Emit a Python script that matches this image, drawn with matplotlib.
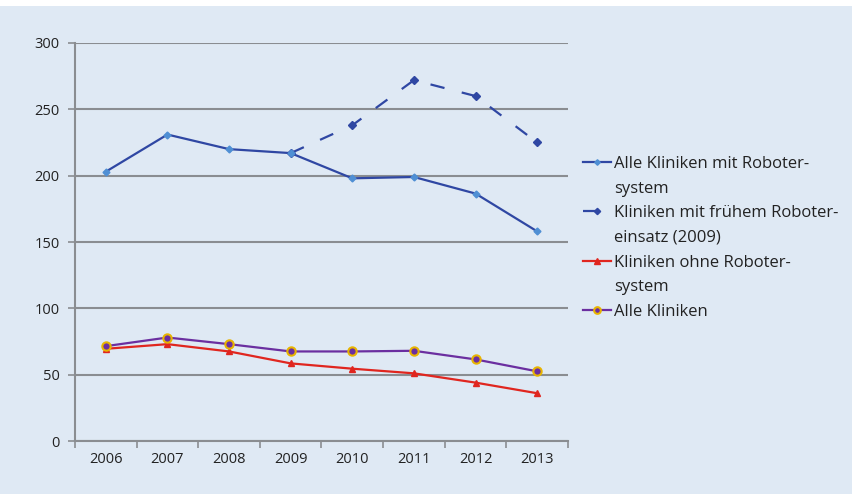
import numpy as np
import matplotlib.pyplot as plt
from matplotlib.patches import Rectangle
from matplotlib.lines import Line2D

years = ['2006', '2007', '2008', '2009', '2010', '2011', '2012', '2013']
alle_robot = [203, 231, 220, 217, 198, 199, 186.5, 158]
frueh_years = ['2009', '2010', '2011', '2012', '2013']
frueh_robot = [217, 238, 272, 260, 225]
ohne_robot = [69.5, 73, 67.5, 58.5, 54.5, 51, 44, 36]
alle_kliniken = [71.5, 78, 73, 67.5, 67.5, 68, 61.5, 52.5]

bg = '#dfe9f4'
grid_c = '#8a8d91'

plt.rcParams['font.family'] = ['Open Sans', 'DejaVu Sans']

fig = plt.figure(figsize=(8.53, 4.94), dpi=100)
fig.patch.set_facecolor('white')
fig.add_artist(Rectangle((0, 0), 1, 488 / 494, transform=fig.transFigure,
                         facecolor=bg, edgecolor='none', zorder=0))

ax = fig.add_axes([75 / 853, 53 / 494, 493 / 853, 398 / 494])
ax.set_facecolor(bg)

x = np.arange(len(years))
xf = np.array([years.index(y) for y in frueh_years])

h_frueh, = ax.plot(xf, frueh_robot, color='#2f47a3', lw=1.6, dashes=(6.5, 8),
                   marker='D', ms=4, mfc='#2f47a3', mec='#2f47a3', zorder=3)
h_alle, = ax.plot(x, alle_robot, color='#2f47a3', lw=1.6, marker='D', ms=3.5,
                  mfc='#4f8fd4', mec='#4f8fd4', zorder=4)
h_ohne, = ax.plot(x, ohne_robot, color='#e0261f', lw=1.6, marker='^', ms=5,
                  mfc='#e0261f', mec='#e0261f', zorder=3)
h_kl, = ax.plot(x, alle_kliniken, color='#6b2fa0', lw=1.6, marker='o', ms=6,
                mfc='#6b2fa0', mec='#e8b400', mew=1.5, zorder=4)

ax.set_xlim(-0.5, 7.5)
ax.set_ylim(0, 300)
ax.set_yticks(np.arange(0, 301, 50))
ax.yaxis.grid(True, color=grid_c, lw=1.5)
ax.set_axisbelow(True)

ax.set_xticks(x)
ax.set_xticklabels(years)
ax.set_xticks(np.arange(-0.5, 8, 1), minor=True)
ax.tick_params(axis='x', which='major', length=0, pad=8, labelsize=10.5, colors='#222222')
ax.tick_params(axis='x', which='minor', length=5, width=1.2, color=grid_c)
ax.tick_params(axis='y', length=5, width=1.2, color=grid_c, labelsize=10.5,
               labelcolor='#222222', pad=6)

for s in ['top', 'right']:
    ax.spines[s].set_visible(False)
for s in ['left', 'bottom']:
    ax.spines[s].set_color(grid_c)
    ax.spines[s].set_linewidth(1.5)

# legend: continuation lines get an empty handle so markers sit on the first line
blank = Line2D([], [], color='none')
leg_handles = [h_alle, blank, h_frueh, blank, h_ohne, blank, h_kl]
leg_labels = ['Alle Kliniken mit Roboter-', 'system',
              'Kliniken mit frühem Roboter-', 'einsatz (2009)',
              'Kliniken ohne Roboter-', 'system',
              'Alle Kliniken']
leg = fig.legend(leg_handles, leg_labels,
                 loc='upper left', bbox_to_anchor=(583 / 853, 1 - 156 / 494),
                 frameon=False, fontsize=12, handlelength=1.7,
                 handletextpad=0.15, labelspacing=0.52, borderpad=0,
                 borderaxespad=0, markerscale=0.8)
for t in leg.get_texts():
    t.set_color('#222222')

fig.savefig('out.png', dpi=100)
